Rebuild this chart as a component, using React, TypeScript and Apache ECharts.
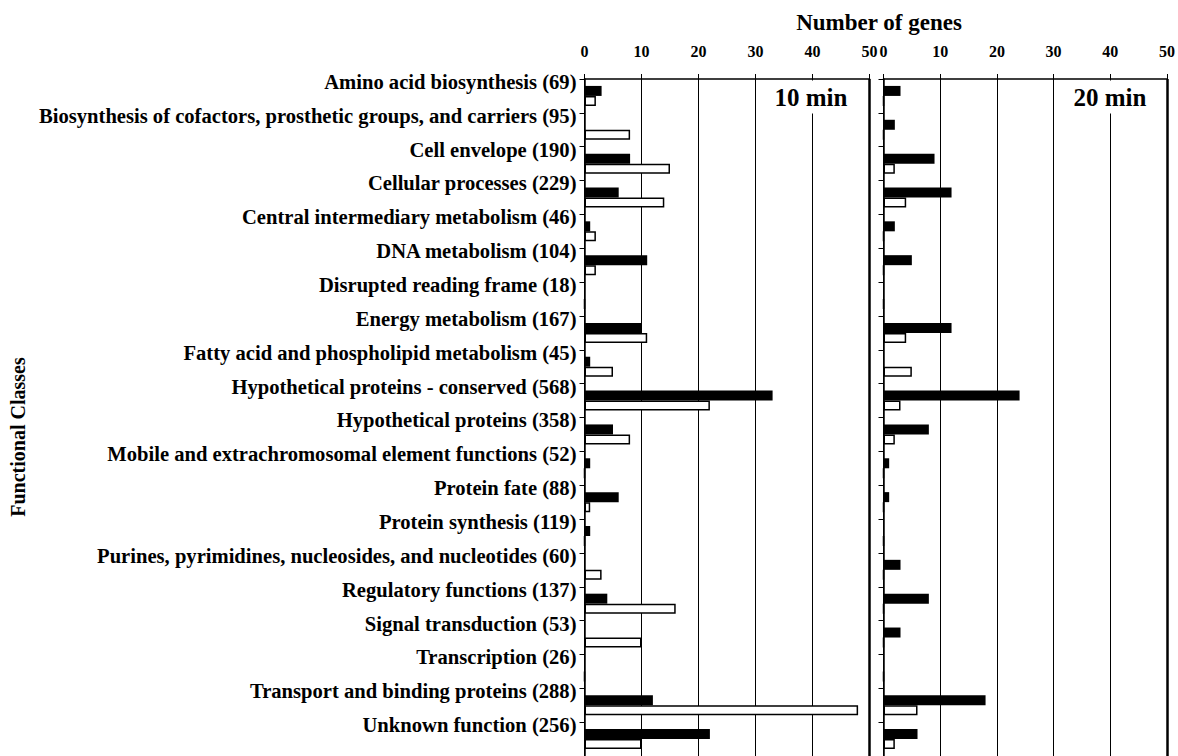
import React, { useEffect, useRef } from "react";
import * as echarts from "echarts";

const categories = [
  "Amino acid biosynthesis (69)",
  "Biosynthesis of cofactors, prosthetic groups, and carriers (95)",
  "Cell envelope (190)",
  "Cellular processes (229)",
  "Central intermediary metabolism (46)",
  "DNA metabolism (104)",
  "Disrupted reading frame (18)",
  "Energy metabolism (167)",
  "Fatty acid and phospholipid metabolism (45)",
  "Hypothetical proteins - conserved (568)",
  "Hypothetical proteins (358)",
  "Mobile and extrachromosomal element functions (52)",
  "Protein fate (88)",
  "Protein synthesis (119)",
  "Purines, pyrimidines, nucleosides, and nucleotides (60)",
  "Regulatory functions (137)",
  "Signal transduction (53)",
  "Transcription (26)",
  "Transport and binding proteins (288)",
  "Unknown function (256)",
];

const black10 = [3, 0, 8, 6, 1, 11, 0, 10, 1, 33, 5, 1, 6, 1, 0, 4, 0, 0, 12, 22];
const white10 = [2, 8, 15, 14, 2, 2, 0, 11, 5, 22, 8, 0, 1, 0, 3, 16, 10, 0, 48, 10];
const black20 = [3, 2, 9, 12, 2, 5, 0, 12, 0, 24, 8, 1, 1, 0, 3, 8, 3, 0, 18, 6];
const white20 = [0, 0, 2, 4, 0, 0, 0, 4, 5, 3, 2, 0, 0, 0, 0, 0, 0, 0, 6, 2];

const xTicks = { min: 0, max: 50, interval: 10 };
const panelTitles = ["10 min", "20 min"];

const FONT = '"Liberation Serif", "Times New Roman", serif';

export default function App() {
  const ref = useRef<HTMLDivElement>(null);
  useEffect(() => {
    if (!ref.current) return;
    const chart = echarts.init(ref.current, undefined, { renderer: "svg" });
    const grids = [
      { left: 584.5, top: 79, width: 285, height: 680 },
      { left: 883.5, top: 79, width: 284.5, height: 680 },
    ];
    const xAxis = grids.map((_, i) => ({
      type: "value",
      gridIndex: i,
      position: "top",
      min: xTicks.min,
      max: xTicks.max,
      interval: xTicks.interval,
      axisLine: { show: true, lineStyle: { color: "#000", width: 1.5 } },
      axisTick: { show: true, length: 5, lineStyle: { color: "#000", width: 1 } },
      axisLabel: {
        margin: 20,
        color: "#000",
        fontFamily: FONT,
        fontWeight: "bold",
        fontSize: 16,
      },
      splitLine: { show: true, lineStyle: { color: "#000", width: 1 } },
    }));
    const yAxis = grids.map((_, i) => ({
      type: "category",
      gridIndex: i,
      data: categories,
      inverse: true,
      axisLine: { show: true, lineStyle: { color: "#000", width: 1.5 } },
      axisTick: { show: true, length: 5, lineStyle: { color: "#000", width: 1 } },
      axisLabel: {
        show: i === 0,
        interval: 0,
        margin: 8,
        color: "#000",
        fontFamily: FONT,
        fontWeight: "bold",
        fontSize: 20.6,
        verticalAlign: "bottom",
        lineHeight: 28,
      },
      splitLine: { show: false },
    }));
    const mkBlack = (data: number[], idx: number) => ({
      type: "bar",
      xAxisIndex: idx,
      yAxisIndex: idx,
      data,
      barWidth: 10,
      barGap: "0%",
      itemStyle: { color: "#000" },
    });
    const mkWhite = (data: number[], idx: number) => ({
      type: "bar",
      xAxisIndex: idx,
      yAxisIndex: idx,
      data,
      barWidth: 10,
      barGap: "0%",
      itemStyle: { color: "#fff", borderColor: "#000", borderWidth: 1.5 },
      markLine: {
        silent: true,
        symbol: ["none", "none"],
        label: { show: false },
        lineStyle: { color: "#000", width: 2.5, type: "solid" },
        data: [{ xAxis: xTicks.max }],
      },
    });
    chart.setOption({
      animation: false,
      grid: grids,
      xAxis,
      yAxis,
      series: [
        mkBlack(black10, 0),
        mkWhite(white10, 0),
        mkBlack(black20, 1),
        mkWhite(white20, 1),
      ],
      graphic: [
        {
          type: "text",
          x: 879,
          y: 22,
          z: 100,
          style: {
            text: "Number of genes",
            fontFamily: FONT,
            fontWeight: "bold",
            fontSize: 23,
            fill: "#000",
            align: "center",
            verticalAlign: "middle",
          },
        },
        {
          type: "text",
          x: 18,
          y: 437,
          rotation: Math.PI / 2,
          z: 100,
          style: {
            text: "Functional Classes",
            fontFamily: FONT,
            fontWeight: "bold",
            fontSize: 20,
            fill: "#000",
            align: "center",
            verticalAlign: "middle",
          },
        },
        ...panelTitles.map((t, i) => ({
          type: "text",
          x: i === 0 ? 811 : 1110,
          y: 97,
          z: 100,
          style: {
            text: t,
            fontFamily: FONT,
            fontWeight: "bold",
            fontSize: 25,
            fill: "#000",
            align: "center",
            verticalAlign: "middle",
            backgroundColor: "#fff",
            padding: [4, 6, 4, 6],
          },
        })),
      ],
    });
    return () => chart.dispose();
  }, []);
  return (
    <div
      ref={ref}
      style={{ position: "absolute", left: 0, top: 0, width: 1178, height: 756, background: "#fff" }}
    />
  );
}
